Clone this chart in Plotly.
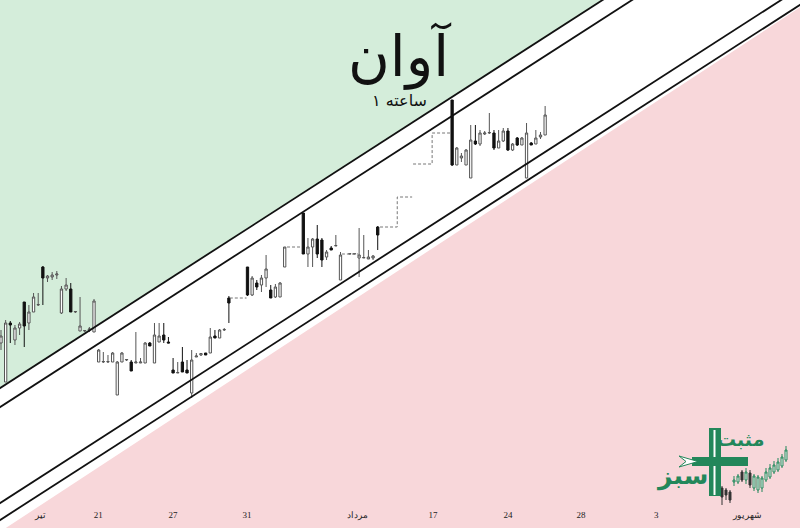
import plotly.graph_objects as go

# ---------------- main hourly candles (bar index on the time axis) ----------------
bar_idx = list(range(0, 50)) + list(range(53, 62)) + list(range(65, 74)) + list(range(75, 82)) + list(range(97, 118))
opens = [185, 146, 205, 188, 200, 226, 205, 216, 223, 261, 250, 251, 253, 215, 239, 239, 216, 197, 197, 198,
         196, 166, 166, 166, 166, 133, 166, 168, 166, 165, 165, 165, 185, 165, 186, 193, 186, 158, 155, 166,
         158, 135, 171, 173, 175, 175, 192, 190, 198, 230,
         261, 233, 245, 243, 250, 238, 231, 231, 261,
         315, 274, 281, 289, 288, 271, 280, 282, 248,
         274, 274, 270, 270, 269, 270, 301,
         428, 363, 370, 363, 350, 387, 384, 394, 395, 395, 380, 387, 397, 378, 390, 383, 350, 385, 384, 391, 393]
highs = [198, 208, 207, 203, 206, 226, 223, 235, 235, 262, 253, 256, 257, 242, 250, 245, 217, 231, 198, 201,
         229, 179, 176, 173, 176, 167, 176, 169, 168, 196, 170, 186, 186, 205, 205, 205, 191, 170, 166, 181,
         168, 178, 175, 175, 175, 200, 198, 199, 200, 232,
         261, 252, 248, 253, 273, 243, 244, 246, 281,
         315, 290, 290, 303, 290, 278, 282, 293, 276,
         274.5, 274.5, 300, 293, 278, 273, 302,
         428, 381, 375, 379, 403, 403, 398, 397, 415, 398, 398, 400, 400, 385, 391, 391, 405, 386, 398, 396, 422]
lows = [178, 146, 185, 183, 193, 181, 198, 216, 222, 223, 246, 248, 249, 214, 237, 216, 215, 197, 196, 196,
        196, 166, 165, 165, 166, 133, 166, 167, 157, 165, 165, 165, 182, 165, 186, 185, 185, 155, 155, 156,
        155, 130, 171, 172, 173, 175, 190, 190, 197, 205,
        232, 232, 238, 236, 241, 230, 230, 231, 261,
        274, 261, 261, 270, 261, 268, 278, 282, 248,
        274, 274, 251, 270, 269, 268, 278,
        362, 363, 366, 363, 350, 383, 382, 393, 394, 378, 380, 386, 377, 377, 382, 383, 350, 383, 384, 389, 393]
closes = [192, 205, 203, 200, 204, 202, 216, 231, 223.5, 250, 252, 253, 254, 239, 243, 216, 216.5, 202, 197.5, 199,
          227, 178, 166.5, 166.5, 175, 166, 175, 168.5, 157, 166, 166, 185, 182, 193, 192, 188, 185, 155, 155.5, 156,
          155, 168, 172, 174.5, 173, 191, 190, 198, 198.5, 225,
          233, 250, 241, 250, 259, 230, 241, 245, 281,
          274, 281, 289, 274, 268, 276, 278, 282.5, 273,
          274.3, 274.3, 273, 270.5, 271, 272, 293,
          363, 380, 372, 378, 388, 384, 395, 395, 395.5, 380, 387, 397, 378, 384, 383, 390, 395, 383, 390, 393, 413]

# flat (no-trade) stretches drawn as dashed price lines
flat_x = [49.2, 52.8, None, 61.5, 64.7, None, 73.3, 76.8, None, 81.5, 85.2, 85.2, 88.4, None, 88.6, 92.7, 92.7, 96.6]
flat_y = [230, 230, None, 281, 281, None, 274, 274, None, 301, 301, 331, 331, None, 364, 364, 395, 395]

# trend channel (two parallel pairs of lines)
chan_x = [-5, 180]
outer_upper = [125.6, 679.7]
inner_upper = [106.6, 660.7]
inner_lower = [10.6, 564.7]
outer_lower = [-6.4, 547.7]
sell_zone_edge = [-18.4, 545.7]

# x-axis (Persian calendar) labels
tick_pos = [8.4, 20.9, 37, 52.9, 76.6, 92.9, 109, 124.7, 140.9, 160.6]
tick_text = ["تیر", "21", "27", "31", "مرداد", "17", "24", "28", "3", "شهریور"]

# small candles of the logo
logo_idx = list(range(17))
logo_open = [40, 38, 36, 46, 46, 56, 48, 55, 40, 38, 40, 48, 51, 56, 58, 62, 68]
logo_high = [42, 40, 38, 52, 54, 58, 60, 58, 54, 53, 52, 60, 64, 67, 70, 74, 82]
logo_low = [23, 28, 25, 42, 44, 46, 44, 40, 37, 35, 36, 46, 49, 54, 56, 60, 66]
logo_close = [31, 33, 28, 48, 52, 48, 56, 43, 52, 51, 50, 56, 60, 63, 66, 71, 78]

GREEN_BG = "#d4edda"
PINK_BG = "#f8d7da"
LOGO_GREEN = "#23875a"

Y_TOP = 528
FAR = 3000
fig = go.Figure()

# channel lines
for ys in (outer_upper, inner_upper, inner_lower, outer_lower):
    fig.add_trace(go.Scatter(x=chan_x, y=ys, mode="lines",
                             line=dict(color="#111111", width=1.8), hoverinfo="skip"))

# flat stretches
fig.add_trace(go.Scatter(x=flat_x, y=flat_y, mode="lines", connectgaps=False,
                         line=dict(color="#777777", width=1, dash="3px,2px"), hoverinfo="skip"))

# candles
fig.add_trace(go.Candlestick(x=bar_idx, open=opens, high=highs, low=lows, close=closes,
                             increasing=dict(line=dict(color="#555555", width=1), fillcolor="#ffffff"),
                             decreasing=dict(line=dict(color="#111111", width=1), fillcolor="#111111"),
                             whiskerwidth=0))

# logo candles
fig.add_trace(go.Candlestick(x=logo_idx, open=logo_open, high=logo_high, low=logo_low, close=logo_close,
                             xaxis="x2", yaxis="y2",
                             increasing=dict(line=dict(color=LOGO_GREEN, width=1), fillcolor="#ffffff"),
                             decreasing=dict(line=dict(color="#333333", width=1), fillcolor="#333333"),
                             whiskerwidth=0))

W, H = 800, 528
def px(x):
    return x / W
def py(y):
    return 1 - y / H

def zone_path(xs, edge, far):
    return (f"M {xs[0]},{edge[0]} L {xs[1]},{edge[1]} "
            f"L {xs[1]},{far} L {xs[0]},{far} Z")

shapes = [
    # buy / sell zones behind everything
    dict(type="path", xref="x", yref="y", layer="below", path=zone_path(chan_x, outer_upper, FAR),
         fillcolor=GREEN_BG, line=dict(width=0)),
    dict(type="path", xref="x", yref="y", layer="below", path=zone_path(chan_x, sell_zone_edge, -FAR),
         fillcolor=PINK_BG, line=dict(width=0)),
    # logo cross
    dict(type="rect", xref="paper", yref="paper", x0=px(709), x1=px(721), y0=py(496), y1=py(428),
         fillcolor=LOGO_GREEN, line=dict(width=0)),
    dict(type="line", xref="paper", yref="paper", x0=px(714.5), x1=px(714.5), y0=py(495), y1=py(430),
         line=dict(color="white", width=2)),
    dict(type="rect", xref="paper", yref="paper", x0=px(692), x1=px(748), y0=py(466), y1=py(457),
         fillcolor=LOGO_GREEN, line=dict(width=0)),
    dict(type="path", xref="paper", yref="paper",
         path=f"M {px(679)} {py(456)} L {px(698)} {py(461.5)} L {px(679)} {py(467)} L {px(686)} {py(461.5)} Z",
         fillcolor="white", line=dict(color=LOGO_GREEN, width=1)),
]

annotations = [
    dict(text="آوان", x=px(399), y=py(56), xref="paper", yref="paper", showarrow=False,
         font=dict(family="DejaVu Sans", size=57, color="#111111"), xanchor="center", yanchor="middle"),
    dict(text="ساعته ۱", x=px(399), y=py(100), xref="paper", yref="paper", showarrow=False,
         font=dict(family="DejaVu Sans", size=16, color="#111111"), xanchor="center", yanchor="middle"),
    dict(text="<b>مثبت</b>", x=px(740), y=py(439), xref="paper", yref="paper", showarrow=False,
         font=dict(family="DejaVu Sans", size=19, color=LOGO_GREEN), xanchor="center", yanchor="middle"),
    dict(text="<b>سبز</b>", x=px(682), y=py(476), xref="paper", yref="paper", showarrow=False,
         font=dict(family="DejaVu Sans", size=25, color=LOGO_GREEN), xanchor="center", yanchor="middle"),
]

fig.update_layout(
    width=W, height=H,
    margin=dict(l=0, r=0, t=0, b=0),
    paper_bgcolor="white", plot_bgcolor="rgba(0,0,0,0)",
    showlegend=False,
    shapes=shapes,
    annotations=annotations,
    xaxis=dict(range=[-0.215, 171.8], showgrid=False, zeroline=False, showline=False,
               rangeslider=dict(visible=False), tickvals=tick_pos, ticktext=tick_text,
               ticklabelposition="inside", ticks="", ticklabelstandoff=5,
               tickfont=dict(family="Liberation Serif", size=9, color="#222222")),
    yaxis=dict(range=[0, Y_TOP], showgrid=False, zeroline=False, showline=False, showticklabels=False),
    xaxis2=dict(domain=[px(718), px(790)], range=[-1, 17], anchor="y2", visible=False,
                rangeslider=dict(visible=False)),
    yaxis2=dict(domain=[py(508), py(445)], range=[20, 83], anchor="x2", visible=False),
)

fig.write_html("out.html", config={"displayModeBar": False},
               post_script="document.body.style.margin='0px';")
